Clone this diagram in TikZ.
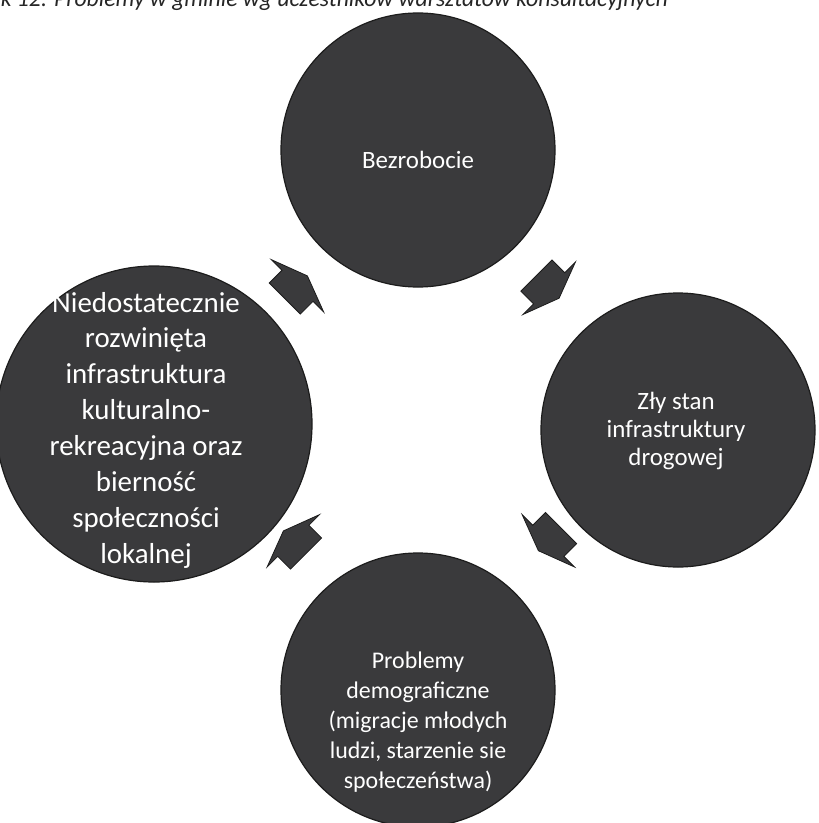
\documentclass[tikz,border=0pt]{standalone}
\usepackage{fontspec}
\setmainfont{Carlito}
\definecolor{discfill}{RGB}{58,58,60}
\definecolor{discedge}{RGB}{28,28,28}
\begin{document}
\begin{tikzpicture}[x=1bp,y=-1bp,
  bubble/.style={circle, fill=discfill, draw=discedge, line width=1.2bp, inner sep=0pt},
  bubbletext/.style={text=white, align=center, inner sep=0pt},
  cyclearrow/.style={fill=discfill, draw=discedge, line width=0.8bp, line join=miter},
  flatarrow/.pic={\path[cyclearrow] (-18,-22) -- (0,-22) -- (0,-37) -- (14,0) -- (0,37) -- (0,22) -- (-18,22) -- cycle;}
]
\useasboundingbox (0,0) rectangle (819,823);
\clip (0,0) rectangle (819,823);
\fill[white] (0,0) rectangle (819,823);

\node[anchor=base east, inner sep=0pt, font=\itshape\fontsize{23.8}{26}\selectfont, text=black!85] (caption) at (668,6)
  {Rysunek 12. Problemy w gminie wg uczestników warsztatów konsultacyjnych};

\node[bubble, minimum size=274bp] (c-top) at (418,150) {};
\node[bubble, minimum size=274bp] (c-right) at (678,430) {};
\node[bubble, minimum size=274bp] (c-bottom) at (418,690) {};
\node[bubble, minimum size=316bp] (c-left) at (154,424) {};

\node[bubbletext, font=\fontsize{25}{28}\selectfont] (t-top) at (418,160) {Bezrobocie};
\node[bubbletext, font=\fontsize{25}{28}\selectfont] (t-right) at (676,431) {Zły stan\\infrastruktury\\drogowej};
\node[bubbletext, font=\fontsize{24}{30}\selectfont] (t-bottom) at (418,722) {Problemy\\demograficzne\\(migracje młodych\\ludzi, starzenie sie\\społeczeństwa)};
\node[bubbletext, font=\fontsize{29}{36}\selectfont] (t-left) at (146,430) {Niedostatecznie\\rozwinięta\\infrastruktura\\kulturalno-\\rekreacyjna oraz\\bierność\\społeczności\\lokalnej};

\pic[rotate=45] (a-tl) at (297.5,285.8) {flatarrow};
\pic[rotate=-45] (a-tr) at (549.2,288.3) {flatarrow};
\pic[rotate=-135] (a-br) at (548.3,540.8) {flatarrow};
\pic[rotate=135] (a-bl) at (293.3,540.8) {flatarrow};
\end{tikzpicture}
\end{document}
